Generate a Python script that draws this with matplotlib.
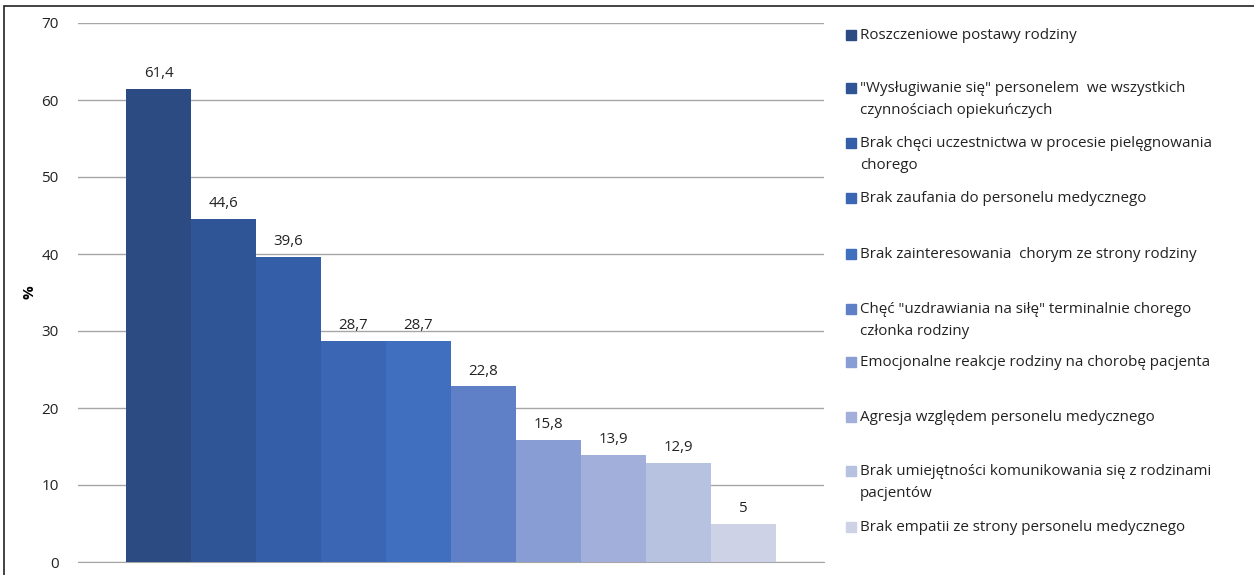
import matplotlib.pyplot as plt
from matplotlib.patches import Rectangle

# Dane
kategorie = [
    'Roszczeniowe postawy rodziny',
    '"Wysługiwanie się" personelem  we wszystkich\nczynnościach opiekuńczych',
    'Brak chęci uczestnictwa w procesie pielęgnowania\nchorego',
    'Brak zaufania do personelu medycznego',
    'Brak zainteresowania  chorym ze strony rodziny',
    'Chęć "uzdrawiania na siłę" terminalnie chorego\nczłonka rodziny',
    'Emocjonalne reakcje rodziny na chorobę pacjenta',
    'Agresja względem personelu medycznego',
    'Brak umiejętności komunikowania się z rodzinami\npacjentów',
    'Brak empatii ze strony personelu medycznego',
]
wartosci = [61.4, 44.6, 39.6, 28.7, 28.7, 22.8, 15.8, 13.9, 12.9, 5]
etykiety = ['61,4', '44,6', '39,6', '28,7', '28,7', '22,8', '15,8', '13,9', '12,9', '5']
kolory = ['#2D4B83', '#305597', '#355EA8', '#3A66B4', '#406FBF',
          '#5F80C6', '#889DD3', '#A1AFDA', '#B7C1E0', '#CDD2E6']

plt.rcParams['font.family'] = ['Open Sans', 'DejaVu Sans']

fig = plt.figure(figsize=(12.54, 5.75), dpi=100)
W, H = 1254, 575

# Obszar wykresu (w pikselach z obrazu)
left, right, top, bottom = 78, 824, 23, 562
ax = fig.add_axes([left / W, 1 - bottom / H, (right - left) / W, (bottom - top) / H])

x = list(range(len(wartosci)))
ax.bar(x, wartosci, width=1.0, color=kolory, zorder=3)
for xi, v, lab in zip(x, wartosci, etykiety):
    ax.text(xi, v + 2.0, lab, ha='center', va='center', fontsize=10.8, color='#222222')

ax.set_xlim(-1.24, 10.24)
ax.set_ylim(0, 70)
ax.set_yticks(range(0, 71, 10))
ax.set_xticks([])
ax.grid(axis='y', color='#A6A6A6', linewidth=1, zorder=0)
for s in ['top', 'right', 'left']:
    ax.spines[s].set_visible(False)
ax.spines['bottom'].set_color('#A6A6A6')
ax.tick_params(axis='y', length=0, pad=14, labelsize=11, labelcolor='#222222')
ax.set_ylabel('%', fontsize=11, fontweight='bold')
ax.yaxis.set_label_coords(-0.056, 0.5)

# Legenda
y_pos = [35, 88, 143, 198, 254, 309, 362, 417, 471, 527]
for lab, kol, yp in zip(kategorie, kolory, y_pos):
    fig.add_artist(Rectangle(((846) / W, 1 - (yp + 5) / H), 10 / W, 10 / H,
                             transform=fig.transFigure, color=kol))
    fig.text(860 / W, 1 - (yp - 7) / H, lab, ha='left', va='top',
             fontsize=10.9, color='#222222', linespacing=1.6)

# Ramka wykresu
fig.add_artist(Rectangle((4 / W, -0.01), (W + 10) / W, 1 - 6 / H + 0.01,
                         transform=fig.transFigure, fill=False,
                         edgecolor='#222222', linewidth=1.2))

fig.savefig('out.png', dpi=100)
